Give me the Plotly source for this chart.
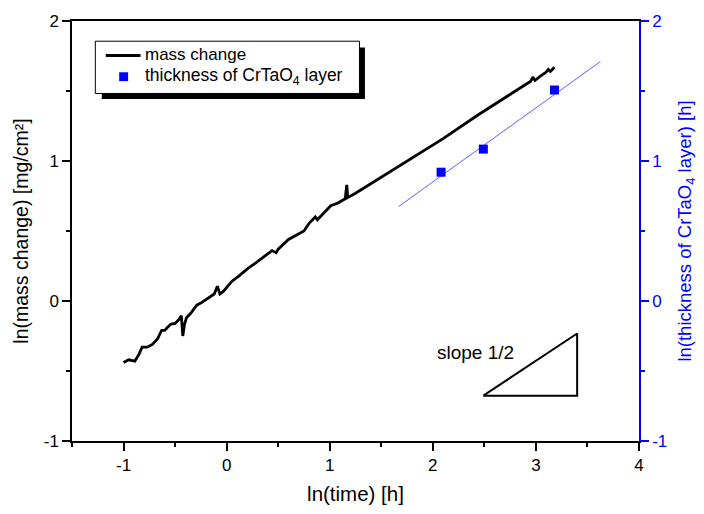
import plotly.graph_objects as go

# mass change curve: ln(time) vs ln(mass change)
mass_x = [-1.00, -0.95, -0.89, -0.85, -0.82, -0.77, -0.72, -0.67, -0.63, -0.60, -0.575, -0.54,
          -0.50, -0.46, -0.44, -0.425, -0.41, -0.39, -0.35, -0.29, -0.24, -0.17, -0.12, -0.09,
          -0.065, -0.03, 0.05, 0.12, 0.21, 0.28, 0.34, 0.40, 0.44, 0.48, 0.50, 0.60, 0.68, 0.75,
          0.80, 0.86, 0.88, 0.95, 1.01, 1.08, 1.15, 1.165, 1.175, 1.25, 1.47, 1.80, 2.10, 2.43,
          2.70, 2.95, 2.97, 2.99, 3.05, 3.10, 3.12, 3.14, 3.18]
mass_y = [-0.44, -0.42, -0.43, -0.38, -0.33, -0.33, -0.31, -0.27, -0.21, -0.21, -0.19, -0.165,
          -0.16, -0.13, -0.105, -0.25, -0.17, -0.12, -0.09, -0.03, -0.01, 0.025, 0.05, 0.105,
          0.05, 0.07, 0.14, 0.18, 0.235, 0.27, 0.305, 0.335, 0.36, 0.345, 0.37, 0.44, 0.47, 0.50,
          0.555, 0.60, 0.58, 0.63, 0.68, 0.70, 0.73, 0.83, 0.74, 0.77, 0.87, 1.02, 1.16, 1.325,
          1.45, 1.57, 1.60, 1.575, 1.61, 1.635, 1.655, 1.64, 1.67]

# thickness of CrTaO4 layer
thick_x = [2.08, 2.49, 3.18]
thick_y = [0.92, 1.085, 1.507]

# linear fit line through thickness points
fit_x = [1.67, 3.625]
fit_y = [0.676, 1.71]

# slope 1/2 triangle
tri_x = [2.49, 3.40, 3.40, 2.49]
tri_y = [-0.676, -0.676, -0.232, -0.676]

x_ticks = [-1, 0, 1, 2, 3, 4]
x_ticktext = ["-1", "0", "1", "2", "3", "4"]
y_ticks = [-1, 0, 1, 2]
y_ticktext = ["-1", "0", "1", "2"]

legend_labels = ["mass change", "thickness of CrTaO<sub>4</sub> layer"]

FONT = "Liberation Sans, Arial, sans-serif"
BLUE = "#0000ff"
W, H = 704, 514
ML, MR, MT, MB = 72, 61, 16, 72
PW, PH = W - ML - MR, H - MT - MB


def px(x):
    return (x - ML) / PW


def py(y):
    return (H - MB - y) / PH


fig = go.Figure()

fig.add_trace(go.Scatter(x=mass_x, y=mass_y, mode="lines", name=legend_labels[0],
                         showlegend=False, line=dict(color="black", width=2.8)))
fig.add_trace(go.Scatter(x=fit_x, y=fit_y, mode="lines", showlegend=False, yaxis="y2",
                         line=dict(color="#6060ff", width=1)))
fig.add_trace(go.Scatter(x=thick_x, y=thick_y, mode="markers", yaxis="y2",
                         name=legend_labels[1], showlegend=False,
                         marker=dict(symbol="square", size=9, color=BLUE)))
fig.add_trace(go.Scatter(x=tri_x, y=tri_y, mode="lines", showlegend=False,
                         line=dict(color="black", width=2)))

fig.add_annotation(x=2.41, y=-0.37, text="slope 1/2", showarrow=False, xref="x", yref="y",
                   font=dict(family=FONT, size=19, color="black"))

# legend drawn by hand: shadow, box, samples, labels
fig.add_shape(type="rect", xref="paper", yref="paper",
              x0=px(102), x1=px(367), y0=py(95), y1=py(43),
              fillcolor="black", line=dict(width=0), layer="above")
fig.add_shape(type="rect", xref="paper", yref="paper",
              x0=px(95.5), x1=px(361.5), y0=py(89.5), y1=py(36.5),
              fillcolor="white", line=dict(color="black", width=1), layer="above")
fig.add_shape(type="line", xref="paper", yref="paper",
              x0=px(106), x1=px(141), y0=py(51), y1=py(51),
              line=dict(color="black", width=2.8), layer="above")
fig.add_shape(type="rect", xref="paper", yref="paper",
              x0=px(119.5), x1=px(128.5), y0=py(77), y1=py(68),
              fillcolor=BLUE, line=dict(width=0), layer="above")
fig.add_annotation(xref="paper", yref="paper", x=px(144), y=py(50), xanchor="left",
                   yanchor="middle", text=legend_labels[0], showarrow=False,
                   font=dict(family=FONT, size=17, color="black"))
fig.add_annotation(xref="paper", yref="paper", x=px(144), y=py(72), xanchor="left",
                   yanchor="middle", text=legend_labels[1], showarrow=False,
                   font=dict(family=FONT, size=17.5, color="black"))

axis_common = dict(showline=True, linewidth=1.5, ticks="outside", ticklen=8, tickwidth=1.5,
                   showgrid=False, zeroline=False)

fig.update_layout(
    width=W, height=H,
    margin=dict(l=ML, r=MR, t=MT, b=MB),
    paper_bgcolor="white", plot_bgcolor="white",
    font=dict(family=FONT, size=17, color="black"),
    showlegend=False,
    xaxis=dict(range=[-1.5, 4], tickvals=x_ticks, ticktext=x_ticktext, linecolor="black",
               tickcolor="black", mirror=True,
               tickfont=dict(family=FONT, size=17, color="black"),
               minor=dict(ticks="outside", ticklen=4, tickwidth=1.5, dtick=0.5,
                          tickcolor="black"),
               title=dict(text="ln(time) [h]", font=dict(family=FONT, size=20.5), standoff=12),
               **axis_common),
    yaxis=dict(range=[-1, 2], tickvals=y_ticks, ticktext=y_ticktext, linecolor="black",
               tickcolor="black",
               tickfont=dict(family=FONT, size=17, color="black"),
               minor=dict(ticks="outside", ticklen=4, tickwidth=1.5, dtick=0.5,
                          tickcolor="black"),
               title=dict(text="ln(mass change) [mg/cm²]", font=dict(family=FONT, size=19.5),
                          standoff=10),
               **axis_common),
    yaxis2=dict(range=[-1, 2], tickvals=y_ticks, ticktext=y_ticktext, overlaying="y",
                side="right", linecolor=BLUE, tickcolor=BLUE,
                tickfont=dict(family=FONT, size=17, color=BLUE),
                minor=dict(ticks="outside", ticklen=4, tickwidth=1.5, dtick=0.5,
                           tickcolor=BLUE),
                title=dict(text="ln(thickness of CrTaO<sub>4</sub> layer) [h]",
                           font=dict(family=FONT, size=18.5, color=BLUE), standoff=12),
                **axis_common),
)

fig.write_html("out.html")
